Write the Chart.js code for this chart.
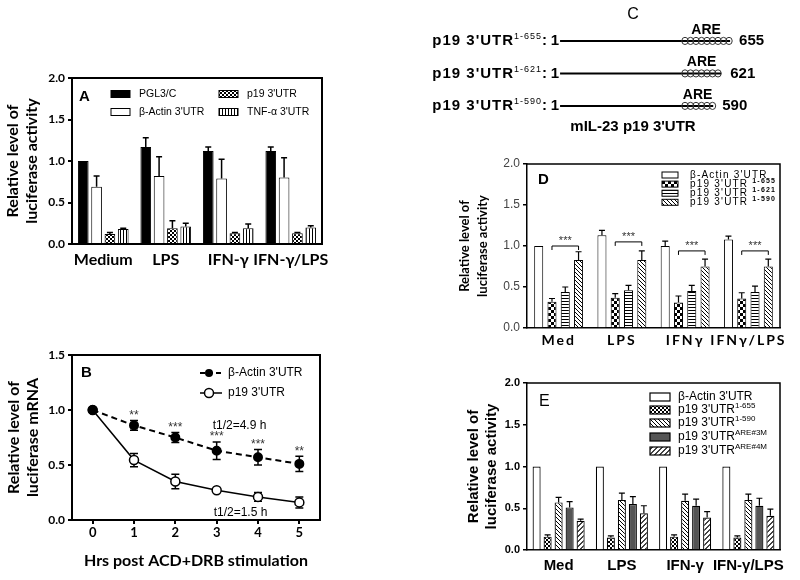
<!DOCTYPE html>
<html><head><meta charset="utf-8">
<script src="https://cdn.jsdelivr.net/npm/chart.js@4.4.0/dist/chart.umd.min.js"></script>
<style>
html,body{margin:0;padding:0;background:#fff;width:800px;height:580px;overflow:hidden;position:relative;}
canvas{position:absolute;}
</style></head><body>
<canvas id="cA" width="340" height="220" style="left:0px;top:60px;width:340px;height:220px"></canvas>
<canvas id="cB" width="340" height="245" style="left:0px;top:335px;width:340px;height:245px"></canvas>
<canvas id="cC" width="420" height="140" style="left:380px;top:0px;width:420px;height:140px"></canvas>
<canvas id="cD" width="360" height="210" style="left:440px;top:145px;width:360px;height:210px"></canvas>
<canvas id="cE" width="360" height="215" style="left:440px;top:365px;width:360px;height:215px"></canvas>
<script>
// ---------------- DATA ----------------
// Panel A
const catA = ['Medium', 'LPS', 'IFN-γ', 'IFN-γ/LPS'];
const aPGL3 = [1.00, 1.17, 1.12, 1.12];
const aPGL3Err = [0, 0.11, 0.05, 0.05];
const aActin = [0.69, 0.82, 0.79, 0.80];
const aActinErr = [0.13, 0.23, 0.23, 0.24];
const aP19 = [0.12, 0.19, 0.13, 0.13];
const aP19Err = [0.02, 0.09, 0.01, 0.01];
const aTNF = [0.18, 0.21, 0.19, 0.20];
const aTNFErr = [0.01, 0.04, 0.05, 0.02];
// Panel B
const hoursB = ['0', '1', '2', '3', '4', '5'];
const bActin = [1.00, 0.86, 0.75, 0.63, 0.57, 0.51];
const bActinErr = [0, 0.045, 0.045, 0.08, 0.07, 0.07];
const bP19 = [1.00, 0.545, 0.35, 0.27, 0.21, 0.16];
const bP19Err = [0, 0.06, 0.065, 0.01, 0.04, 0.05];
const bStars = ['', '**', '***', '***', '***', '**'];
const bHalfLife = ['t1/2=4.9 h', 't1/2=1.5 h'];
// Panel C
const cConstructs = ['1-655', '1-621', '1-590'];
const cStart = [1, 1, 1];
const cEnd = [655, 621, 590];
const cAREStart = [470, 470, 470];
// Panel D
const catD = ['Med', 'LPS', 'IFNγ', 'IFNγ/LPS'];
const dActin = [1.00, 1.13, 1.00, 1.08];
const dActinErr = [0, 0.06, 0.06, 0.04];
const d655 = [0.32, 0.37, 0.31, 0.36];
const d655Err = [0.04, 0.05, 0.08, 0.07];
const d621 = [0.44, 0.46, 0.45, 0.44];
const d621Err = [0.06, 0.06, 0.07, 0.07];
const d590 = [0.83, 0.83, 0.75, 0.75];
const d590Err = [0.10, 0.11, 0.09, 0.09];
const dSigLevel = [1.00, 1.05, 0.94, 0.94];
// Panel E
const catE = ['Med', 'LPS', 'IFN-γ', 'IFN-γ/LPS'];
const eActin = [1.00, 1.00, 1.00, 1.00];
const e655 = [0.16, 0.15, 0.16, 0.15];
const e655Err = [0.02, 0.02, 0.02, 0.02];
const e590 = [0.57, 0.60, 0.59, 0.60];
const e590Err = [0.06, 0.08, 0.08, 0.07];
const e3M = [0.51, 0.55, 0.53, 0.53];
const e3MErr = [0.07, 0.09, 0.08, 0.09];
const e4M = [0.35, 0.44, 0.39, 0.41];
const e4MErr = [0.02, 0.09, 0.07, 0.08];

// ---------------- STYLE HELPERS ----------------
const LATO = "Lato, 'Liberation Sans', sans-serif";
const ARIAL = "'Liberation Sans', Arial, sans-serif";
Chart.defaults.font.family = ARIAL;
Chart.defaults.color = '#000';

const tmpCtx = document.createElement('canvas').getContext('2d');
function pat(size, draw, bg) {
  const c = document.createElement('canvas'); c.width = c.height = size;
  const g = c.getContext('2d'); g.fillStyle = bg || '#fff'; g.fillRect(0, 0, size, size);
  g.fillStyle = '#000'; draw(g, size);
  return tmpCtx.createPattern(c, 'repeat');
}
const P = {
  checkA: pat(4, g => { g.fillRect(0, 0, 2, 2); g.fillRect(2, 2, 2, 2); }),
  vstripe: pat(3, g => { g.fillRect(0, 0, 1, 3); }),
  checkD: pat(6, g => { g.fillRect(0, 0, 3, 3); g.fillRect(3, 3, 3, 3); }),
  hstripe: pat(3, g => { g.fillRect(0, 0, 3, 1); }),
  diagBack: pat(4, (g, s) => { for (let i = 0; i < s; i++) g.fillRect(i, i, 1, 1); }),
  diagFwd: pat(5, (g, s) => { g.fillStyle = '#444'; for (let i = 0; i < s; i++) { g.fillRect(s - 1 - i, i, 1, 1); g.fillRect((2 * s - 2 - i) % s, i, 1, 1); } }),
  dotsE: pat(4, g => { g.fillRect(0, 0, 2, 2); g.fillRect(2, 2, 2, 2); })
};

function font(size, weight, family) { return { size, weight: weight || 'normal', family: family || ARIAL }; }

function yAxis(o) {
  return {
    min: 0, max: o.max,
    ticks: { stepSize: o.step, font: o.tickFont, color: o.tickColor || '#000', padding: 3, callback: v => Number(v).toFixed(1) },
    grid: { drawOnChartArea: false, drawTicks: true, tickLength: 4, color: '#000', lineWidth: o.lw },
    border: { color: '#000', width: o.lw },
    title: { display: true, text: o.title, font: o.titleFont, color: '#000', padding: { top: o.titlePad, bottom: 0 } },
    afterFit(s) { s.width = o.width; }
  };
}
function xCatAxis(o) {
  return {
    grid: { display: false, drawTicks: false },
    border: { color: '#000', width: o.lw },
    ticks: { font: o.font, padding: o.pad, color: '#000', maxRotation: 0, autoSkip: false, z: o.z || 0 },
    afterFit(s) { s.height = o.height; }
  };
}
function framePlugin(lw) {
  return { id: 'frame', afterDraw(chart) {
    const a = chart.chartArea, ctx = chart.ctx;
    ctx.save(); ctx.strokeStyle = '#000'; ctx.lineWidth = lw;
    ctx.beginPath(); ctx.moveTo(a.left, a.top); ctx.lineTo(a.right, a.top); ctx.lineTo(a.right, a.bottom); ctx.stroke();
    ctx.restore();
  } };
}
function barErrPlugin(errs, cap, lw) {
  return { id: 'errs', afterDatasetsDraw(chart) {
    const ctx = chart.ctx, ys = chart.scales.y;
    ctx.save(); ctx.strokeStyle = '#000'; ctx.lineWidth = lw;
    errs.forEach((arr, di) => {
      if (!arr) return;
      const meta = chart.getDatasetMeta(di), vals = chart.data.datasets[di].data;
      meta.data.forEach((el, j) => {
        const e = arr[j]; if (!e) return;
        const yb = ys.getPixelForValue(vals[j]), yt = ys.getPixelForValue(vals[j] + e);
        ctx.beginPath(); ctx.moveTo(el.x, yb); ctx.lineTo(el.x, yt);
        ctx.moveTo(el.x - cap, yt); ctx.lineTo(el.x + cap, yt); ctx.stroke();
      });
    });
    ctx.restore();
  } };
}
function swatch(ctx, x, y, w, h, fill, lw) {
  ctx.fillStyle = fill; ctx.fillRect(x, y - h / 2, w, h);
  ctx.lineWidth = lw; ctx.strokeStyle = '#000'; ctx.strokeRect(x, y - h / 2, w, h);
}
function richText(ctx, x, y, parts, align) {
  ctx.textBaseline = 'middle'; ctx.textAlign = 'left'; ctx.fillStyle = '#000';
  let total = 0;
  parts.forEach(p => { ctx.font = p.font; total += ctx.measureText(p.t).width + (p.gap || 0); });
  let cx = align === 'right' ? x - total : x;
  parts.forEach(p => { ctx.font = p.font; ctx.fillText(p.t, cx, y + (p.dy || 0)); cx += ctx.measureText(p.t).width + (p.gap || 0); });
}
const baseOpts = { responsive: false, animation: false, events: [] };

// ---------------- PANEL A ----------------
new Chart(document.getElementById('cA'), {
  type: 'bar',
  data: { labels: catA, datasets: [
    { label: 'PGL3/C', data: aPGL3, backgroundColor: '#000' },
    { label: "β-Actin 3'UTR", data: aActin, backgroundColor: '#fff' },
    { label: "p19 3'UTR", data: aP19, backgroundColor: P.checkA },
    { label: "TNF-α 3'UTR", data: aTNF, backgroundColor: P.vstripe }
  ].map(d => Object.assign(d, { borderColor: '#000', borderWidth: 1, categoryPercentage: 0.853, barPercentage: 0.8 })) },
  options: Object.assign({}, baseOpts, {
    layout: { padding: { top: 18, right: 18, left: 0, bottom: 0 } },
    plugins: { legend: { display: false }, tooltip: { enabled: false } },
    scales: {
      x: xCatAxis({ lw: 2, font: font(16, 'bold', LATO), pad: 6, height: 36 }),
      y: yAxis({ max: 2, step: 0.5, lw: 2, tickFont: font(12, 'bold', LATO), title: ['Relative level of', 'luciferase activity'],
        titleFont: { size: 16, weight: 'bold', family: LATO, lineHeight: 1.15 }, titlePad: 4, width: 72 })
    }
  }),
  plugins: [barErrPlugin([aPGL3Err, aActinErr, aP19Err, aTNFErr], 3, 1.5), framePlugin(2), { id: 'legA', afterDraw(chart) {
    const ctx = chart.ctx, a = chart.chartArea, ds = chart.data.datasets;
    ctx.save();
    ctx.font = 'bold 15px ' + ARIAL; ctx.textBaseline = 'middle'; ctx.fillStyle = '#000'; ctx.textAlign = 'left';
    ctx.fillText('A', a.left + 7, a.top + 19);
    const pos = [[39, 16], [39, 34], [147, 16], [147, 34]];
    ds.forEach((d, i) => {
      swatch(ctx, a.left + pos[i][0], a.top + pos[i][1], 19, 7, d.backgroundColor, 1);
      richText(ctx, a.left + pos[i][0] + 28, a.top + pos[i][1], [{ t: d.label, font: '10.5px ' + ARIAL }]);
    });
    ctx.restore();
  } }]
});

// ---------------- PANEL B ----------------
new Chart(document.getElementById('cB'), {
  type: 'line',
  data: { labels: hoursB, datasets: [
    { label: "β-Actin 3'UTR", data: bActin, borderColor: '#000', borderWidth: 2, borderDash: [6, 4], pointRadius: 4, pointBackgroundColor: '#000', pointBorderColor: '#000', tension: 0 },
    { label: "p19 3'UTR", data: bP19, borderColor: '#000', borderWidth: 1.5, pointRadius: 4.5, pointBackgroundColor: '#fff', pointBorderColor: '#000', pointBorderWidth: 1.5, tension: 0 }
  ] },
  options: Object.assign({}, baseOpts, {
    layout: { padding: { top: 20, right: 20, left: 0, bottom: 0 } },
    plugins: { legend: { display: false }, tooltip: { enabled: false } },
    scales: {
      x: { offset: true, grid: { drawOnChartArea: false, tickLength: 4, color: '#000', lineWidth: 2 }, border: { color: '#000', width: 2 },
        ticks: { font: font(13, 'bold', LATO), padding: 1, color: '#000', maxRotation: 0 },
        title: { display: true, text: 'Hrs post ACD+DRB stimulation', font: font(16, 'bold', LATO), color: '#000', padding: { top: 0, bottom: 10 } },
        afterFit(s) { s.height = 60; } },
      y: yAxis({ max: 1.5, step: 0.5, lw: 2, tickFont: font(12, 'bold', LATO), title: ['Relative level of', 'luciferase mRNA'],
        titleFont: { size: 16, weight: 'bold', family: LATO, lineHeight: 1.15 }, titlePad: 5, width: 72 })
    }
  }),
  plugins: [framePlugin(2), { id: 'errB', beforeDatasetsDraw(chart) {
    const ctx = chart.ctx, ys = chart.scales.y;
    ctx.save(); ctx.strokeStyle = '#000'; ctx.lineWidth = 1.5;
    [[bActin, bActinErr], [bP19, bP19Err]].forEach((pair, di) => {
      chart.getDatasetMeta(di).data.forEach((el, j) => {
        const e = pair[1][j]; if (!e) return;
        const yt = ys.getPixelForValue(pair[0][j] + e), yb = ys.getPixelForValue(pair[0][j] - e);
        ctx.beginPath(); ctx.moveTo(el.x, yt); ctx.lineTo(el.x, yb);
        ctx.moveTo(el.x - 4, yt); ctx.lineTo(el.x + 4, yt); ctx.moveTo(el.x - 4, yb); ctx.lineTo(el.x + 4, yb); ctx.stroke();
      });
    });
    ctx.restore();
  }, afterDraw(chart) {
    const ctx = chart.ctx, a = chart.chartArea, xs = chart.scales.x, ys = chart.scales.y;
    ctx.save();
    ctx.fillStyle = '#000'; ctx.textBaseline = 'middle'; ctx.textAlign = 'left';
    ctx.font = 'bold 15px ' + ARIAL; ctx.fillText('B', a.left + 9, a.top + 18);
    ctx.font = '12px ' + ARIAL; ctx.textAlign = 'center'; ctx.fillStyle = '#333';
    bStars.forEach((s, j) => { if (!s) return; ctx.fillText(s, xs.getPixelForValue(j), ys.getPixelForValue(bActin[j] + bActinErr[j]) - 5); });
    ctx.fillStyle = '#000'; ctx.font = '12px ' + ARIAL; ctx.textAlign = 'left';
    ctx.fillText(bHalfLife[0], xs.getPixelForValue(3) - 4, ys.getPixelForValue(0.855));
    ctx.fillText(bHalfLife[1], xs.getPixelForValue(3) - 3, ys.getPixelForValue(0.07));
    const rows = [a.top + 18, a.top + 38];
    ctx.strokeStyle = '#000';
    ctx.lineWidth = 2; ctx.setLineDash([5, 3]);
    ctx.beginPath(); ctx.moveTo(a.left + 128, rows[0]); ctx.lineTo(a.left + 150, rows[0]); ctx.stroke();
    ctx.setLineDash([]); ctx.lineWidth = 1.5;
    ctx.beginPath(); ctx.moveTo(a.left + 128, rows[1]); ctx.lineTo(a.left + 150, rows[1]); ctx.stroke();
    ctx.fillStyle = '#000'; ctx.beginPath(); ctx.arc(a.left + 137, rows[0], 4, 0, Math.PI * 2); ctx.fill();
    ctx.fillStyle = '#fff'; ctx.beginPath(); ctx.arc(a.left + 137, rows[1], 4.5, 0, Math.PI * 2); ctx.fill(); ctx.stroke();
    chart.data.datasets.forEach((d, i) => richText(ctx, a.left + 156, rows[i], [{ t: d.label, font: '12px ' + ARIAL }]));
    ctx.restore();
  } }]
});

// ---------------- PANEL C ----------------
new Chart(document.getElementById('cC'), {
  type: 'line',
  data: { datasets: cEnd.map((e, i) => ({ data: [{ x: cStart[i], y: i }, { x: e, y: i }], borderColor: '#000', borderWidth: 2, pointRadius: 0 })) },
  options: Object.assign({}, baseOpts, {
    layout: { padding: 0 },
    plugins: { legend: { display: false }, tooltip: { enabled: false } },
    scales: { x: { type: 'linear', display: false, min: -691.5, max: 923.8 }, y: { type: 'linear', display: false, reverse: true, min: -1.26, max: 3.05 } }
  }),
  plugins: [{ id: 'cDraw', afterDraw(chart) {
    const ctx = chart.ctx, xs = chart.scales.x, ys = chart.scales.y;
    ctx.save(); ctx.fillStyle = '#000'; ctx.textBaseline = 'middle';
    ctx.textAlign = 'center'; ctx.font = '16px ' + ARIAL; ctx.fillText('C', 253, 15);
    cConstructs.forEach((c, i) => {
      const y = ys.getPixelForValue(i), x1 = xs.getPixelForValue(cStart[i]), xe = xs.getPixelForValue(cEnd[i]), xa = xs.getPixelForValue(cAREStart[i]);
      ctx.strokeStyle = '#333'; ctx.lineWidth = 1;
      for (let x = xa + 3; x <= xe; x += 5.5) { ctx.beginPath(); ctx.ellipse(x, y, 3.2, 3.6, 0, 0, Math.PI * 2); ctx.stroke(); }
      ctx.fillStyle = '#000';
      ctx.textAlign = 'center'; ctx.font = 'bold 14px ' + ARIAL; ctx.fillText('ARE', (xa + xe) / 2, y - 11);
      ctx.textAlign = 'right'; ctx.font = 'bold 15px ' + ARIAL; ctx.fillText(String(cStart[i]), x1 - 1, y);
      ctx.textAlign = 'left'; ctx.fillText(String(cEnd[i]), xe + 9, y);
      ctx.letterSpacing = '1px';
      richText(ctx, x1 - 12, y, [{ t: "p19 3'UTR", font: 'bold 15px ' + ARIAL }, { t: c, font: '9px ' + ARIAL, dy: -4, gap: 0 }, { t: ':', font: 'bold 15px ' + ARIAL }], 'right');
      ctx.letterSpacing = '0px';
    });
    ctx.textAlign = 'center'; ctx.font = 'bold 15px ' + ARIAL; ctx.fillStyle = '#000';
    ctx.fillText("mIL-23 p19 3'UTR", 253, 127);
    ctx.restore();
  } }]
});

// ---------------- PANEL D ----------------
new Chart(document.getElementById('cD'), {
  type: 'bar',
  data: { labels: catD, datasets: [
    { label: "β-Actin 3'UTR", sup: '', data: dActin, backgroundColor: '#fff' },
    { label: "p19 3'UTR ", sup: '1-655', data: d655, backgroundColor: P.checkD },
    { label: "p19 3'UTR ", sup: '1-621', data: d621, backgroundColor: P.hstripe },
    { label: "p19 3'UTR ", sup: '1-590', data: d590, backgroundColor: P.diagBack }
  ].map(d => Object.assign(d, { borderColor: '#000', borderWidth: 1, categoryPercentage: 0.84, barPercentage: 0.68 })) },
  options: Object.assign({}, baseOpts, {
    layout: { padding: { top: 19, right: 20, left: 0, bottom: 0 } },
    plugins: { legend: { display: false }, tooltip: { enabled: false } },
    scales: {
      x: xCatAxis({ lw: 1.5, font: font(14, 'bold', LATO), pad: 4, height: 27, z: 1 }),
      y: yAxis({ max: 2, step: 0.5, lw: 1.5, tickFont: font(12, 'normal', ARIAL), tickColor: '#444', title: ['Relative level of', 'luciferase activity'],
        titleFont: { size: 13, weight: 'bold', family: LATO, lineHeight: 1.38 }, titlePad: 16, width: 87 })
    }
  }),
  plugins: [barErrPlugin([dActinErr, d655Err, d621Err, d590Err], 3, 1.2), framePlugin(1.5), { id: 'legD',
    afterDatasetsDraw(chart) {
      const ctx = chart.ctx, ys = chart.scales.y;
      const m1 = chart.getDatasetMeta(1), m3 = chart.getDatasetMeta(3);
      ctx.save(); ctx.strokeStyle = '#000'; ctx.lineWidth = 1; ctx.fillStyle = '#333';
      ctx.font = '11px ' + ARIAL; ctx.textAlign = 'center'; ctx.textBaseline = 'middle';
      dSigLevel.forEach((lv, j) => {
        const x1 = m1.data[j].x, x3 = m3.data[j].x, y = ys.getPixelForValue(lv);
        ctx.beginPath(); ctx.moveTo(x1, y + 4); ctx.lineTo(x1, y); ctx.lineTo(x3, y); ctx.lineTo(x3, y + 4); ctx.stroke();
        ctx.fillText('***', (x1 + x3) / 2, y - 5);
      });
      ctx.restore();
      ctx.letterSpacing = '2px';
    },
    afterDraw(chart) {
      const ctx = chart.ctx, a = chart.chartArea, ds = chart.data.datasets;
      ctx.letterSpacing = '0px';
      ctx.save();
      ctx.font = 'bold 15px ' + ARIAL; ctx.textBaseline = 'middle'; ctx.fillStyle = '#000'; ctx.textAlign = 'left';
      ctx.fillText('D', a.left + 11, a.top + 16);
      ctx.letterSpacing = '1.2px';
      ds.forEach((d, i) => {
        const y = a.top + 11 + i * 9.1;
        swatch(ctx, a.left + 135, y, 16, 6, d.backgroundColor, 1);
        const parts = [{ t: d.label, font: '10px ' + ARIAL }];
        if (d.sup) parts.push({ t: d.sup, font: 'bold 7px ' + ARIAL, dy: -3 });
        richText(ctx, a.left + 163, y, parts);
      });
      ctx.letterSpacing = '0px';
      ctx.restore();
    } }]
});

// ---------------- PANEL E ----------------
new Chart(document.getElementById('cE'), {
  type: 'bar',
  data: { labels: catE, datasets: [
    { label: "β-Actin 3'UTR", sup: '', data: eActin, backgroundColor: '#fff' },
    { label: "p19 3'UTR", sup: '1-655', data: e655, backgroundColor: P.dotsE },
    { label: "p19 3'UTR", sup: '1-590', data: e590, backgroundColor: P.diagBack },
    { label: "p19 3'UTR", sup: 'ARE#3M', data: e3M, backgroundColor: '#555' },
    { label: "p19 3'UTR", sup: 'ARE#4M', data: e4M, backgroundColor: P.diagFwd }
  ].map(d => Object.assign(d, { borderColor: '#000', borderWidth: 1.2, categoryPercentage: 0.87, barPercentage: 0.73 })) },
  options: Object.assign({}, baseOpts, {
    layout: { padding: { top: 18, right: 20, left: 0, bottom: 0 } },
    plugins: { legend: { display: false }, tooltip: { enabled: false } },
    scales: {
      x: xCatAxis({ lw: 1.5, font: font(15, 'bold', ARIAL), pad: 7, height: 30 }),
      y: yAxis({ max: 2, step: 0.5, lw: 1.5, tickFont: font(11, 'bold', ARIAL), title: ['Relative level of', 'luciferase activity'],
        titleFont: { size: 15, weight: 'bold', family: ARIAL, lineHeight: 1.2 }, titlePad: 25, width: 87 })
    }
  }),
  plugins: [barErrPlugin([null, e655Err, e590Err, e3MErr, e4MErr], 3, 1.2), framePlugin(1.5), { id: 'legE', afterDraw(chart) {
    const ctx = chart.ctx, a = chart.chartArea, ds = chart.data.datasets;
    ctx.save();
    ctx.font = '16px ' + ARIAL; ctx.textBaseline = 'middle'; ctx.fillStyle = '#000'; ctx.textAlign = 'left';
    ctx.fillText('E', a.left + 12, a.top + 19);
    const rows = [14, 27, 40, 54, 68];
    ds.forEach((d, i) => {
      const y = a.top + rows[i];
      swatch(ctx, a.left + 123, y, 20, 8, d.backgroundColor, 1.2);
      const parts = [{ t: d.label, font: '12px ' + ARIAL }];
      if (d.sup) parts.push({ t: d.sup, font: '8px ' + ARIAL, dy: -4 });
      richText(ctx, a.left + 151, y, parts);
    });
    ctx.restore();
  } }]
});
</script>
</body></html>
